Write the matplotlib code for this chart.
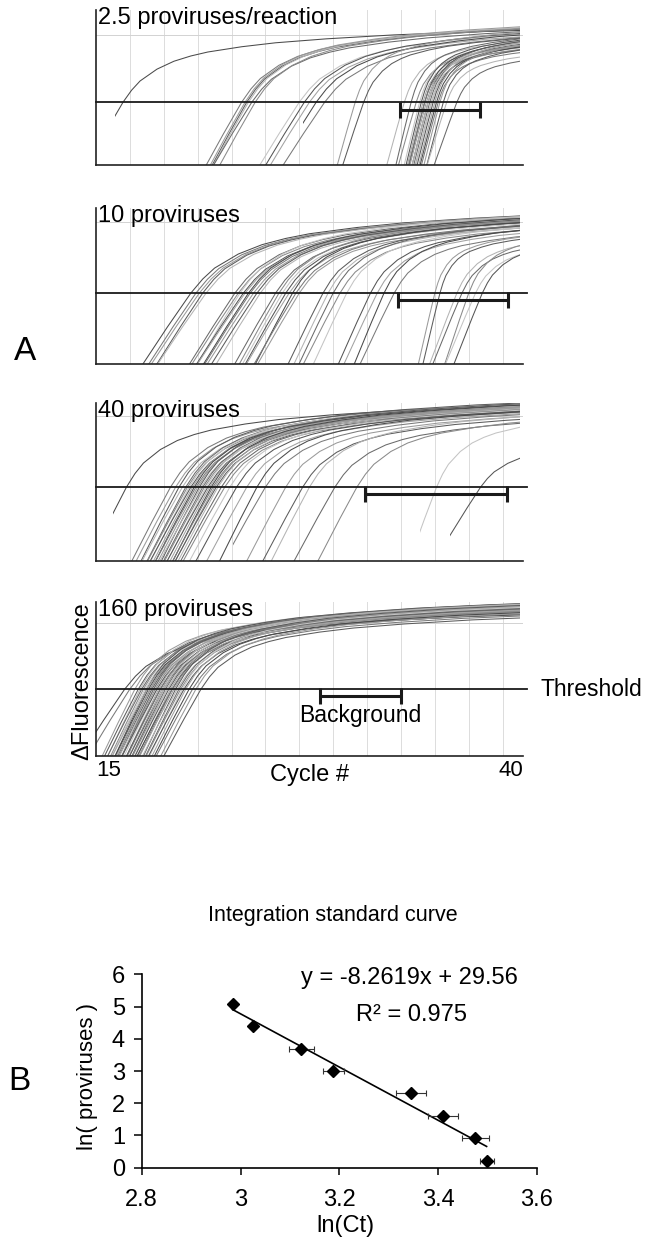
import matplotlib
matplotlib.use('Agg')
import matplotlib.pyplot as plt
import matplotlib.transforms as mtransforms
from matplotlib.patches import Rectangle
import numpy as np

plt.rcParams['font.family'] = ['Liberation Sans', 'DejaVu Sans']

# shape of one amplification curve:
# cycles from the threshold crossing -> rise above threshold (axis fraction)
tmpl_dx = [-3.0, -2.0, -1.0, 0.0, 0.5, 1.0, 2.0, 3.0, 4.0, 5.0, 7.0, 9.0,
           12.0, 16.0, 20.0, 25.0, 32.0, 45.0, 70.0]
tmpl_rise = [-0.68, -0.45, -0.22, 0.0, 0.09, 0.16, 0.25, 0.31, 0.35, 0.38,
             0.42, 0.45, 0.48, 0.51, 0.53, 0.55, 0.57, 0.59, 0.61]

titles = ['2.5 proviruses/reaction', '10 proviruses', '40 proviruses',
          '160 proviruses']
threshold = [0.406, 0.455, 0.468, 0.435]
plateau_grid = [0.84, 0.91, 0.92, 0.864]
bg_start = [32.95, 32.83, 30.88, 28.22]
bg_end = [37.67, 39.32, 39.26, 33.0]
bg_level = [0.355, 0.41, 0.424, 0.39]
grid_cycles = list(range(17, 40, 2))

# threshold crossing cycle, plateau gain, horizontal stretch, first cycle
ct_p1 = [16.6,
         23.6, 23.8, 23.9, 24.0, 24.2, 24.4,
         27.0, 27.3, 27.6, 28.0, 28.5,
         30.3, 30.8,
         33.2, 33.6, 33.9, 34.1, 34.2, 34.3, 34.4, 34.4, 34.5, 34.6, 34.6,
         34.7, 34.8, 34.8, 34.9, 35.0, 35.1, 35.2, 35.3, 35.5, 35.7, 36.3]
amp_p1 = [0.85,
          0.95, 0.97, 0.93, 0.96, 0.92, 0.95,
          0.93, 0.95, 0.90, 0.94, 0.92,
          0.85, 0.80,
          0.78, 0.80, 0.72, 0.75, 0.80, 0.70, 0.78, 0.66, 0.74, 0.80, 0.70,
          0.76, 0.68, 0.78, 0.72, 0.80, 0.74, 0.65, 0.76, 0.70, 0.62, 0.60]
k_p1 = [1.0,
        1.1, 1.1, 1.05, 1.1, 1.15, 1.1,
        1.2, 1.2, 1.15, 1.2, 1.25,
        0.5, 0.55,
        0.45, 0.4, 0.42, 0.38, 0.4, 0.36, 0.4, 0.35, 0.4, 0.42, 0.37,
        0.4, 0.36, 0.4, 0.38, 0.42, 0.4, 0.36, 0.4, 0.38, 0.4, 0.45]
start_p1 = [16.1] + [np.nan] * 9 + [27.2] + [np.nan] * 25

ct_p2 = [20.6, 20.9, 21.1, 21.3, 21.5,
         23.2, 23.4, 23.5, 23.7, 23.8, 24.0, 24.1, 24.3, 24.5, 24.7,
         25.6, 25.8, 26.0, 26.2, 26.4, 26.6, 26.8, 27.0,
         28.4, 28.7, 29.0, 29.4, 29.8,
         31.2, 31.6, 32.0, 32.6,
         35.0, 35.3,
         36.3, 36.6, 37.0, 37.4, 37.8]
amp_p2 = [1.0, 0.98, 1.0, 0.97, 0.99,
          0.98, 0.96, 1.0, 0.95, 0.97, 0.99, 0.94, 0.96, 0.98, 0.93,
          0.92, 0.95, 0.90, 0.93, 0.88, 0.92, 0.90, 0.86,
          0.88, 0.85, 0.90, 0.84, 0.87,
          0.85, 0.82, 0.86, 0.80,
          0.72, 0.70,
          0.75, 0.70, 0.78, 0.68, 0.72]
k_p2 = [1.4, 1.35, 1.4, 1.3, 1.4,
        1.3, 1.3, 1.25, 1.3, 1.35, 1.3, 1.25, 1.3, 1.3, 1.2,
        1.1, 1.1, 1.05, 1.1, 1.1, 1.0, 1.1, 1.05,
        0.9, 0.85, 0.9, 0.9, 0.85,
        0.8, 0.8, 0.75, 0.8,
        0.35, 0.35,
        0.6, 0.6, 0.55, 0.6, 0.6]
start_p2 = [np.nan] * 39

ct_p3 = [16.8,
         19.4, 19.7, 19.9, 20.1, 20.3, 20.4, 20.5, 20.6, 20.7, 20.8, 20.9,
         21.0, 21.1, 21.2, 21.3, 21.4, 21.5, 21.6, 21.7, 21.8, 21.9, 22.0,
         22.1, 22.2, 22.4, 22.6, 22.9,
         23.3, 23.9, 24.5, 25.0,
         26.2, 27.2, 27.6, 29.1, 30.4,
         35.1, 37.7]
amp_p3 = [0.95,
          1.0, 0.98, 1.02, 0.96, 1.0, 0.97, 1.01, 0.95, 0.99, 1.0, 0.96,
          0.98, 1.02, 0.94, 0.99, 0.97, 1.0, 0.95, 0.98, 1.01, 0.96, 0.99,
          0.94, 0.97, 0.95, 0.93, 0.96,
          0.95, 0.92, 0.94, 0.93,
          0.90, 0.88, 0.92, 0.86, 0.90,
          0.90, 0.60]
k_p3 = [1.0] + [1.1] * 27 + [1.1, 1.05, 1.0, 1.1] + [1.0] * 5 + [0.7, 0.8]
start_p3 = [16.0] + [np.nan] * 30 + [23.1] + [np.nan] * 5 + [34.1, 35.9]

ct_p4 = [16.7, 17.0, 17.3, 17.5, 17.6, 17.7, 17.8, 17.9, 18.0, 18.0, 18.1,
         18.2, 18.2, 18.3, 18.4, 18.4, 18.5, 18.6, 18.6, 18.7, 18.8, 18.8,
         18.9, 19.0, 19.0, 19.1, 19.2, 19.2, 19.3, 19.4, 19.5, 19.5, 19.6,
         19.7, 19.8, 19.9, 20.0, 20.1, 20.2, 20.3, 20.5, 20.7, 20.9, 21.2]
amp_p4 = [0.92, 0.95, 1.0, 0.97, 1.02, 0.96, 1.0, 0.98, 1.03, 0.95, 0.99,
          1.01, 0.97, 1.0, 0.96, 1.03, 0.98, 1.0, 0.94, 1.02, 0.97, 0.99,
          1.0, 0.96, 1.03, 0.98, 0.95, 1.01, 0.97, 1.0, 0.93, 0.99, 0.96,
          1.02, 0.94, 0.98, 0.95, 1.0, 0.92, 0.97, 0.94, 0.9, 0.93, 0.88]
k_p4 = [1.25, 1.2] + [1.0] * 42
start_p4 = [np.nan] * 44

curves = [(ct_p1, amp_p1, k_p1, start_p1),
          (ct_p2, amp_p2, k_p2, start_p2),
          (ct_p3, amp_p3, k_p3, start_p3),
          (ct_p4, amp_p4, k_p4, start_p4)]

# panel B: standard curve
proviruses = [160, 80, 40, 20, 10, 5, 2.5, 1.25]
ln_ct = [2.984, 3.026, 3.123, 3.188, 3.345, 3.410, 3.475, 3.498]
ln_ct_err = [0.005, 0.006, 0.025, 0.022, 0.030, 0.030, 0.027, 0.014]
fit_slope, fit_icpt = -8.2619, 29.56

W, H = 647, 1241
fig = plt.figure(figsize=(W / 100, H / 100), dpi=100)


def axes_px(left, top, right, bottom):
    return fig.add_axes([left / W, 1 - bottom / H, (right - left) / W,
                         (bottom - top) / H])


grays = ['#4a4a4a', '#7a7a7a', '#9a9a9a', '#5c5c5c', '#b4b4b4', '#6a6a6a',
         '#8a8a8a', '#c4c4c4', '#555555', '#a2a2a2']
boxes = [(10, 165), (208, 364), (403, 561), (602, 756)]
dx = np.array(tmpl_dx)
rise = np.array(tmpl_rise)

for p, (top, bottom) in enumerate(boxes):
    ax = axes_px(96, top, 523, bottom)
    ax.set_xlim(15, 40.2)
    ax.set_ylim(0, 1)
    ax.set_xticks([])
    ax.set_yticks([])
    for s in ['top', 'right']:
        ax.spines[s].set_visible(False)
    for s in ['left', 'bottom']:
        ax.spines[s].set_linewidth(1.2)
        ax.spines[s].set_color('#222222')
    for c in grid_cycles:
        ax.axvline(c, color='#dcdcdc', lw=0.7, zorder=0)
    ax.axhline(plateau_grid[p], color='#d2d2d2', lw=0.7, zorder=0)

    thr = threshold[p]
    ct, amp, kk, st = curves[p]
    for i in range(len(ct)):
        x = ct[i] + dx * kk[i]
        y = thr + rise * amp[i]
        ln, = ax.plot(x, y, color=grays[i % len(grays)], lw=0.75, zorder=2)
        s0 = 15 if np.isnan(st[i]) else st[i]
        ln.set_clip_path(Rectangle((s0, 0), 40 - s0, 1.0,
                                   transform=ax.transData))

    ax.plot([15, 40.45], [thr, thr], color='#1a1a1a', lw=1.3,
            clip_on=False, zorder=4)
    mid = (bg_start[p] + bg_end[p]) / 2
    half = (bg_end[p] - bg_start[p]) / 2
    ax.errorbar([mid], [bg_level[p]], xerr=[half], fmt='none',
                ecolor='#1a1a1a', elinewidth=2.2, capsize=6, capthick=2.2,
                zorder=5)
    ax.text(0.004, 1.02, titles[p], transform=ax.transAxes, ha='left',
            va='top', fontsize=17, zorder=6)

    if p == 3:
        tr = mtransforms.blended_transform_factory(ax.transAxes, ax.transData)
        ax.text(1.04, thr, 'Threshold', transform=tr, ha='left',
                va='center', fontsize=16.5)
        ax.text(mid, 0.335, 'Background', ha='center', va='top',
                fontsize=16.5)
        ax.text(0.0, -0.025, '15', transform=ax.transAxes, ha='left',
                va='top', fontsize=16)
        ax.text(1.0, -0.025, '40', transform=ax.transAxes, ha='right',
                va='top', fontsize=16)
        ax.text(0.5, -0.055, 'Cycle #', transform=ax.transAxes,
                ha='center', va='top', fontsize=17)

fig.text(82 / W, 1 - 681 / H, '\u0394Fluorescence', rotation=90,
         ha='center', va='center', fontsize=17)
fig.text(25 / W, 1 - 352 / H, 'A', ha='center', va='center', fontsize=24)

# panel B
axb = axes_px(141.7, 974.3, 537, 1167.7)
yv = np.log(proviruses)
axb.errorbar(ln_ct, yv, xerr=ln_ct_err, fmt='D', color='black', ms=6.5,
             ecolor='#333333', elinewidth=0.8, capsize=2.5, capthick=0.8,
             zorder=3)
xs = np.array([min(ln_ct), max(ln_ct)])
axb.plot(xs, fit_slope * xs + fit_icpt, color='black', lw=1.2, zorder=2)
axb.set_xlim(2.8, 3.6)
axb.set_ylim(0, 6)
axb.set_xticks([2.8, 3.0, 3.2, 3.4, 3.6])
axb.set_xticklabels(['2.8', '3', '3.2', '3.4', '3.6'])
axb.set_yticks(range(7))
for s in ['top', 'right']:
    axb.spines[s].set_visible(False)
for s in ['left', 'bottom']:
    axb.spines[s].set_linewidth(1.2)
axb.tick_params(direction='out', width=1.1, labelsize=17)
axb.tick_params(axis='x', length=5, pad=10)
axb.tick_params(axis='y', length=6, pad=6)

fig.text(409 / W, 1 - 978 / H, 'y = -8.2619x + 29.56', ha='center',
         va='center', fontsize=17)
fig.text(411 / W, 1 - 1015 / H, 'R\u00b2 = 0.975', ha='center',
         va='center', fontsize=17)
fig.text(333 / W, 1 - 915 / H, 'Integration standard curve', ha='center',
         va='center', fontsize=15.5)
fig.text(345 / W, 1 - 1226 / H, 'ln(Ct)', ha='center', va='center',
         fontsize=17)
fig.text(88 / W, 1 - 1077 / H, 'ln( proviruses )', rotation=90,
         ha='center', va='center', fontsize=16)
fig.text(19.5 / W, 1 - 1082 / H, 'B', ha='center', va='center', fontsize=24)

fig.savefig('out.png', dpi=100)
